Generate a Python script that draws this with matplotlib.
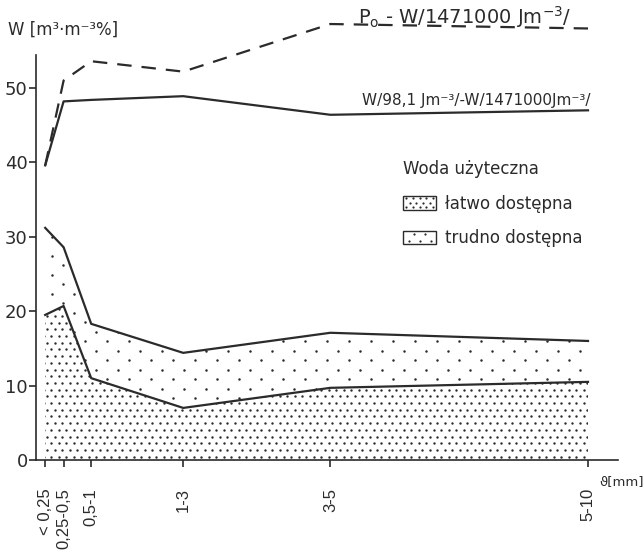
import matplotlib
matplotlib.use('Agg')
import matplotlib.pyplot as plt
import numpy as np
from matplotlib.patches import Patch, Rectangle
from matplotlib.lines import Line2D
from matplotlib.legend_handler import HandlerBase

# ---- data ----
categories = ["< 0,25", "0,25-0,5", "0,5-1", "1-3", "3-5", "5-10"]
mid_mm = [0.125, 0.375, 0.75, 2.0, 4.0, 7.5]            # fraction mid-points [mm]
po_minus_w = [39.6, 51.0, 53.6, 52.2, 58.6, 58.0]       # dashed line
w98_minus_w1471 = [39.6, 48.2, 48.4, 48.9, 46.4, 47.0]  # upper solid line
upper_band = [31.2, 28.6, 18.3, 14.4, 17.1, 16.0]       # top of "trudno dostepna"
lower_band = [19.5, 20.7, 11.0, 7.0, 9.7, 10.5]         # top of "latwo dostepna"
yticks = [0, 10, 20, 30, 40, 50]

ink = '#2b2b2b'
plt.rcParams['font.family'] = ['DejaVu Sans']

fig = plt.figure(figsize=(6.44, 5.53), dpi=100)
W, H = 644, 553
px_per_mm = 73.6
px_per_unit = 7.44
ax = fig.add_axes([36 / W, 93 / H, 582 / W, 62 * px_per_unit / H])
ax.set_xlim(0, 582 / px_per_mm)
ax.set_ylim(0, 62)


def dot_texture(dx_px, dy_px, y_top, x0_px=0.0):
    """Staggered grid of stipple dots (texture, in data units)."""
    dx = dx_px / px_per_mm
    dy = dy_px / px_per_unit
    xs_all, ys_all = [], []
    for i, y in enumerate(np.arange(dy / 2, y_top, dy)):
        off = (dx / 2 if i % 2 else 0.0) + x0_px / px_per_mm
        xs = np.arange(off, ax.get_xlim()[1], dx)
        xs_all.extend(xs)
        ys_all.extend([y] * len(xs))
    return np.array(xs_all), np.array(ys_all)


# filled regions (used as clip paths for stipple texture)
poly_low = ax.fill_between(mid_mm, 0, lower_band, facecolor='none',
                           edgecolor='none', linewidth=0)
poly_mid = ax.fill_between(mid_mm, lower_band, upper_band, facecolor='none',
                           edgecolor='none', linewidth=0)

tx, ty = dot_texture(7.5, 6.7, 40)
sc1 = ax.scatter(tx, ty, s=3.0, color=ink, linewidths=0)
sc1.set_clip_path(poly_low.get_paths()[0], ax.transData)

tx2, ty2 = dot_texture(22, 9.5, 40, x0_px=5)
sc2 = ax.scatter(tx2, ty2, s=3.2, color=ink, linewidths=0)
sc2.set_clip_path(poly_mid.get_paths()[0], ax.transData)

# lines
ax.plot(mid_mm, lower_band, color=ink, lw=1.6)
ax.plot(mid_mm, upper_band, color=ink, lw=1.6)
ax.plot(mid_mm, w98_minus_w1471, color=ink, lw=1.6)
ax.plot(mid_mm, po_minus_w, color=ink, lw=1.6, linestyle=(0, (6.5, 4.5)),
        clip_on=False)

# axes styling
for s in ['top', 'right']:
    ax.spines[s].set_visible(False)
ax.spines['left'].set_bounds(0, 54.5)
for s in ['left', 'bottom']:
    ax.spines[s].set_color(ink)
    ax.spines[s].set_linewidth(1.2)

ax.set_yticks(yticks)
ax.set_yticklabels([str(v) for v in yticks], fontsize=13, color=ink)
ax.tick_params(axis='y', direction='out', length=5, width=1.2, pad=1, colors=ink)

ax.set_xticks(mid_mm)
ax.set_xticklabels(categories, rotation=90, fontsize=12, color=ink, va='top',
                   family=['Liberation Sans', 'DejaVu Sans'])
ax.tick_params(axis='x', direction='out', length=5, width=1.2, pad=15, colors=ink)

# texts
fig.text(8 / W, 1 - 30 / H, 'W [m³·m⁻³%]', fontsize=12, color=ink,
         ha='left', va='center')
fig.text(358 / W, 1 - 17 / H, r'P$_\mathrm{o}$ - W/1471000 Jm$^{-3}$/',
         fontsize=14, color=ink, ha='left', va='center')
fig.text(362 / W, 1 - 100 / H, 'W/98,1 Jm⁻³/-W/1471000Jm⁻³/', fontsize=11,
         color=ink, ha='left', va='center')
fig.text(599 / W, 1 - 482 / H, 'ϑ[mm]', fontsize=9.5, color=ink,
         ha='left', va='center')


# legend with stippled boxes
class DotBoxHandler(HandlerBase):
    def __init__(self, nx, ny, ms):
        super().__init__()
        self.nx, self.ny, self.ms = nx, ny, ms

    def create_artists(self, legend, orig_handle, xdescent, ydescent,
                       width, height, fontsize, trans):
        x0, y0 = -xdescent, -ydescent
        rect = Rectangle((x0, y0), width, height, facecolor='white',
                         edgecolor=ink, lw=1.0, transform=trans)
        xs, ys = [], []
        for j in range(self.ny):
            yy = y0 + height * (j + 0.5) / self.ny
            n = self.nx - (j % 2)
            for i in range(n):
                off = 0.5 if j % 2 == 0 else 1.0
                xs.append(x0 + width * (i + off) / self.nx)
                ys.append(yy)
        dots = Line2D(xs, ys, ls='none', marker='o', ms=self.ms, color=ink,
                      mew=0, transform=trans)
        return [rect, dots]


h_dense = Patch(facecolor='white', edgecolor=ink)
h_sparse = Patch(facecolor='white', edgecolor=ink)
leg = fig.legend([h_dense, h_sparse], ['łatwo dostępna', 'trudno dostępna'],
                 title='Woda użyteczna', loc='upper left',
                 bbox_to_anchor=(403 / W, 1 - 160 / H), frameon=False,
                 fontsize=12, title_fontsize=12, handlelength=2.0,
                 handleheight=0.85, handletextpad=0.5, labelspacing=1.0,
                 borderpad=0, borderaxespad=0, alignment='left',
                 handler_map={h_dense: DotBoxHandler(5, 3, 1.6),
                              h_sparse: DotBoxHandler(3, 2, 1.6)})
for t in leg.get_texts():
    t.set_color(ink)
leg.get_title().set_color(ink)

fig.savefig('out.png', dpi=100, facecolor='white')
